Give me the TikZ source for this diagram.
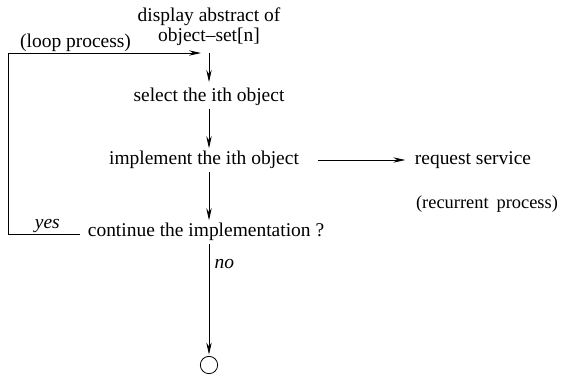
\documentclass[tikz,border=0pt]{standalone}
\usepackage{fontspec}
\setmainfont{Liberation Serif}
\usetikzlibrary{arrows.meta}

\tikzset{
  flowtext/.style={inner sep=2pt, font=\fontsize{14.6}{16}\selectfont},
  flowlabel/.style={inner sep=1pt, font=\itshape\fontsize{14.6}{16}\selectfont},
  flowarrow/.style={-{Stealth[length=9pt,width=4pt]}, line width=0.6pt},
  flowline/.style={line width=0.6pt}
}

\begin{document}
\begin{tikzpicture}[x=0.75pt,y=0.75pt,yscale=-1,xscale=1]
\useasboundingbox (0,0) rectangle (561,376);

% Text Node
\node [flowtext, align=center] (disp) at (209,27) {display abstract of\\[-1pt]object--set[n]};
% Text Node
\node [flowtext] (sel) at (209,97) {select the ith object};
% Text Node
\node [flowtext] (impl) at (204,160) {implement the ith object};
% Text Node
\node [flowtext] (req) at (473,160) {request service};
% Text Node
\node [flowtext, font=\fontsize{13.8}{16}\selectfont] (rec) at (487,204) {(recurrent\hspace{6pt}process)};
% Text Node
\node [flowtext] (cont) at (206,232) {continue the implementation ?};
% Shape: Circle
\node [draw, circle, flowline, minimum size=13pt, inner sep=0pt] (stop) at (209,365) {};

%Straight Lines
\coordinate (top) at (209,53);
\coordinate (lp) at (8,234);
\coordinate (lq) at (8,53);
\coordinate (lend) at (201,53);
\draw [flowarrow] (top) -- (209,82);
\draw [flowarrow] (sel.south) -- (sel.south |- impl.north);
\draw [flowarrow] (impl.south -| sel.south) -- (sel.south |- cont.north);
\draw [flowarrow, shorten <=12pt, shorten >=5pt] (impl.east) -- (req.west);
\draw [flowarrow] (cont.south -| sel.south) -- node [pos=0.18, right, flowlabel, inner sep=4pt] {no} ([yshift=-1pt]stop.north);

% loop back
\draw [flowline] ([xshift=-4pt]cont.west |- lp) -- node [above, pos=0.45, flowlabel] {yes} (lp) -- (lq);
\draw [flowarrow] (lq) -- node [above, pos=0.35, flowtext, inner sep=1pt] {(loop process)} (lend);

\end{tikzpicture}
\end{document}
